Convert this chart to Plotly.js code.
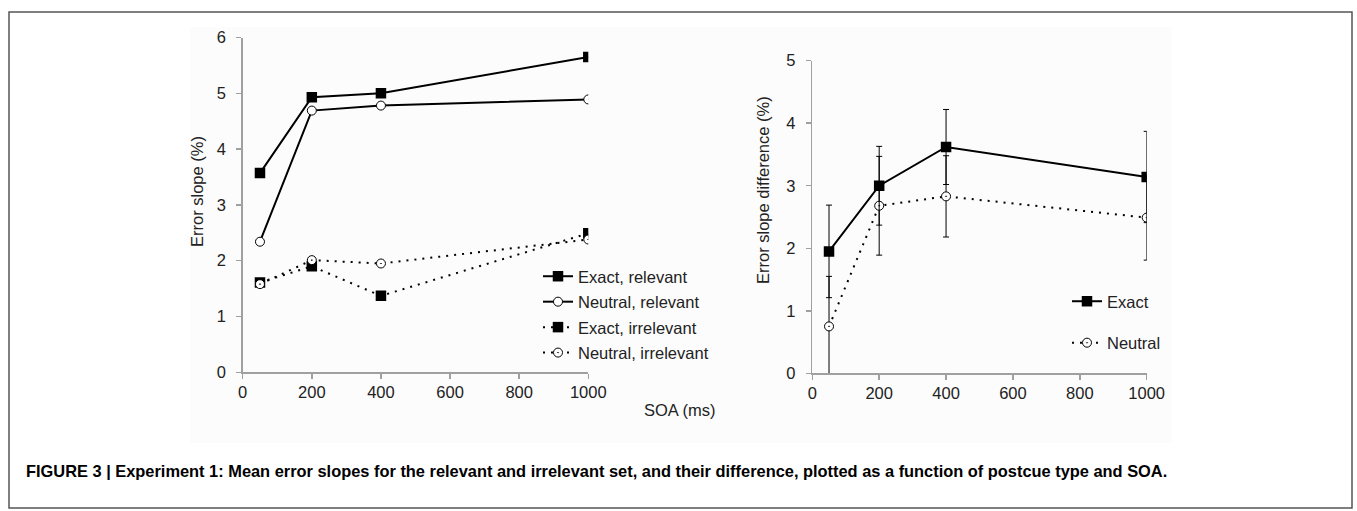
<!DOCTYPE html>
<html>
<head>
<meta charset="utf-8">
<script src="https://cdn.plot.ly/plotly-3.0.1.min.js"></script>
<style>
html,body{margin:0;padding:0;background:#fff;}
#chart{width:1357px;height:511px;}
</style>
</head>
<body>
<div id="chart"></div>
<script>
// ---- data ----
const soa = [50, 200, 400, 1000];
const exactRelevant = [3.57, 4.93, 5.00, 5.65];
const neutralRelevant = [2.34, 4.69, 4.78, 4.89];
const exactIrrelevant = [1.61, 1.90, 1.37, 2.49];
const neutralIrrelevant = [1.58, 2.01, 1.95, 2.38];

const exactDiff = [1.95, 3.00, 3.62, 3.14];
const exactDiffErr = [0.74, 0.63, 0.60, 0.73];
const neutralDiff = [0.75, 2.68, 2.83, 2.49];
const neutralDiffErr = [0.80, 0.79, 0.65, 0.68];

const xTicks = [0, 200, 400, 600, 800, 1000];
const leftYTicks = [0, 1, 2, 3, 4, 5, 6];
const rightYTicks = [0, 1, 2, 3, 4, 5];

const labels = {
  leftY: 'Error slope (%)',
  rightY: 'Error slope difference (%)',
  x: 'SOA (ms)',
  caption: 'FIGURE 3 | Experiment 1: Mean error slopes for the relevant and irrelevant set, and their difference, plotted as a function of postcue type and SOA.'
};

// ---- helpers ----
const W = 1357, H = 511;
const px = v => v / W;
const py = v => 1 - v / H;
const FONT = 'Liberation Sans, Arial, Helvetica, sans-serif';
const FS = 16.5;
const dotDash = '2px,6px';

const sqMarker = {symbol: 'square', size: 10.5, color: '#000', line: {width: 0}};
const circMarker = {symbol: 'circle', size: 9, color: '#fff', line: {color: '#000', width: 1}};
const circDotMarker = {symbol: 'circle-dot', size: 9, color: '#fff', line: {color: '#000', width: 1}};

const traces = [
  {x: soa, y: exactRelevant, name: 'Exact, relevant', mode: 'lines+markers', xaxis: 'x', yaxis: 'y',
   line: {color: '#000', width: 2}, marker: sqMarker, legend: 'legend', legendgroup: 'a'},
  {x: soa, y: neutralRelevant, name: 'Neutral, relevant', mode: 'lines+markers', xaxis: 'x', yaxis: 'y',
   line: {color: '#000', width: 2}, marker: circMarker, legend: 'legend', legendgroup: 'b'},
  {x: soa, y: exactIrrelevant, name: 'Exact, irrelevant', mode: 'lines+markers', xaxis: 'x', yaxis: 'y',
   line: {color: '#000', width: 2, dash: dotDash}, marker: sqMarker, legend: 'legend', legendgroup: 'c'},
  {x: soa, y: neutralIrrelevant, name: 'Neutral, irrelevant', mode: 'lines+markers', xaxis: 'x', yaxis: 'y',
   line: {color: '#000', width: 2, dash: dotDash}, marker: circDotMarker, legend: 'legend', legendgroup: 'd'},
  {x: soa, y: neutralDiff, name: 'Neutral', mode: 'lines+markers', xaxis: 'x2', yaxis: 'y2',
   line: {color: '#000', width: 2, dash: dotDash}, marker: circDotMarker,
   error_y: {type: 'data', array: neutralDiffErr, visible: true, color: '#000', thickness: 1, width: 3},
   legend: 'legend2', legendgroup: 'f', legendrank: 2},
  {x: soa, y: exactDiff, name: 'Exact', mode: 'lines+markers', xaxis: 'x2', yaxis: 'y2',
   line: {color: '#000', width: 2}, marker: sqMarker,
   error_y: {type: 'data', array: exactDiffErr, visible: true, color: '#000', thickness: 1, width: 3},
   legend: 'legend2', legendgroup: 'e', legendrank: 1}
];

const axisCommon = {
  showline: true, linecolor: '#a0a0a0', linewidth: 1.5,
  ticks: 'outside', tickcolor: '#a0a0a0', ticklen: 5, tickwidth: 1.5,
  showgrid: false, zeroline: false,
  tickfont: {family: FONT, size: FS, color: '#222'},
  fixedrange: true
};

const layout = {
  width: W, height: H,
  margin: {l: 0, r: 0, t: 0, b: 0},
  paper_bgcolor: '#fff', plot_bgcolor: 'rgba(0,0,0,0)',
  font: {family: FONT, size: FS, color: '#222'},
  xaxis: Object.assign({}, axisCommon, {domain: [px(242.7), px(588.3)], range: [0, 1000], tickvals: xTicks, anchor: 'y', ticklabelstandoff: -1}),
  yaxis: Object.assign({}, axisCommon, {domain: [py(372.3), py(37.5)], range: [0, 6], tickvals: leftYTicks, anchor: 'x', ticklabelstandoff: 7}),
  xaxis2: Object.assign({}, axisCommon, {domain: [px(812.3), px(1146.7)], range: [0, 1000], tickvals: xTicks, anchor: 'y2', ticklabelstandoff: -1}),
  yaxis2: Object.assign({}, axisCommon, {domain: [py(373.3), py(60.7)], range: [0, 5], tickvals: rightYTicks, anchor: 'x2', ticklabelstandoff: 7}),
  showlegend: true,
  legend: {x: px(538), y: py(259), xanchor: 'left', yanchor: 'top', bgcolor: 'rgba(0,0,0,0)',
           font: {family: FONT, size: FS, color: '#222'}, tracegroupgap: 1, itemwidth: 30, traceorder: 'grouped'},
  legend2: {x: px(1067), y: py(284), xanchor: 'left', yanchor: 'top', bgcolor: 'rgba(0,0,0,0)',
           font: {family: FONT, size: FS, color: '#222'}, tracegroupgap: 17, itemwidth: 30, traceorder: 'grouped'},
  shapes: [
    {type: 'rect', xref: 'paper', yref: 'paper', x0: px(190), x1: px(1172), y0: py(443), y1: py(27),
     fillcolor: '#fcfcfc', line: {width: 0}, layer: 'below'},
    {type: 'rect', xref: 'paper', yref: 'paper', x0: px(9), x1: px(1352), y0: py(508), y1: py(12),
     fillcolor: 'rgba(0,0,0,0)', line: {color: '#555', width: 1.5}, layer: 'above'}
  ],
  annotations: [
    {text: labels.leftY, xref: 'paper', yref: 'paper', x: px(197), y: py(192), textangle: -90,
     showarrow: false, font: {family: FONT, size: FS, color: '#222'}, xanchor: 'center', yanchor: 'middle'},
    {text: labels.rightY, xref: 'paper', yref: 'paper', x: px(763), y: py(190), textangle: -90,
     showarrow: false, font: {family: FONT, size: FS, color: '#222'}, xanchor: 'center', yanchor: 'middle'},
    {text: labels.x, xref: 'paper', yref: 'paper', x: px(680), y: py(410),
     showarrow: false, font: {family: FONT, size: FS, color: '#222'}, xanchor: 'center', yanchor: 'middle'},
    {text: '<b>' + labels.caption + '</b>', xref: 'paper', yref: 'paper', x: px(24), y: py(471),
     showarrow: false, font: {family: FONT, size: 16.4, color: '#000'}, xanchor: 'left', yanchor: 'middle'}
  ]
};

Plotly.newPlot('chart', traces, layout, {displayModeBar: false, staticPlot: true});
</script>
</body>
</html>
